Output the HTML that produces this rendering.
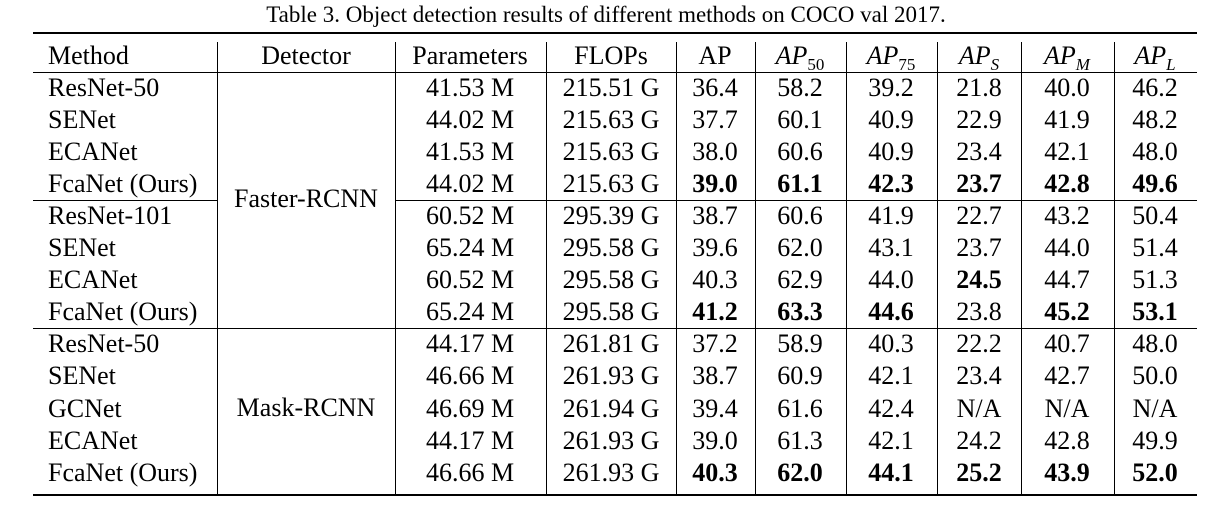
<!DOCTYPE html>
<html><head><meta charset="utf-8"><style>
body{margin:0;width:1212px;height:512px;background:#fff;position:relative;overflow:hidden;font-family:"Liberation Serif",serif;color:#000}
.t{position:absolute;white-space:nowrap;font-size:26px;line-height:32px;height:32px}
.c{transform:translateX(-50%)}
.h{position:absolute;background:#000}
sub{font-size:17px;vertical-align:-6px;line-height:0}
b{font-weight:bold}
</style></head><body>
<div class="t c" style="left:606px;top:0;font-size:23px;line-height:30px">Table 3. Object detection results of different methods on COCO val 2017.</div>
<div class="h" style="left:33px;top:32px;width:1164px;height:2px"></div>
<div class="h" style="left:33px;top:72px;width:1164px;height:1px"></div>
<div class="h" style="left:33px;top:200px;width:184px;height:1px"></div>
<div class="h" style="left:395px;top:200px;width:802px;height:1px"></div>
<div class="h" style="left:33px;top:328px;width:1164px;height:1px"></div>
<div class="h" style="left:33px;top:494px;width:1164px;height:2px"></div>
<div class="t c" style="left:306px;top:183px">Faster-RCNN</div>
<div class="t c" style="left:306px;top:392px">Mask-RCNN</div>
<script>
const vlines=[217,395,546,676,755,846,937,1021,1114];
const centers=[48,306,470,611,715,800,891,979,1067,1155];
const headers=['Method','Detector','Parameters','FLOPs','AP','<i>AP</i><sub>50</sub>','<i>AP</i><sub>75</sub>','<i>AP<sub>S</sub></i>','<i>AP<sub>M</sub></i>','<i>AP<sub>L</sub></i>'];
const methods=['ResNet-50','SENet','ECANet','FcaNet (Ours)','ResNet-101','SENet','ECANet','FcaNet (Ours)','ResNet-50','SENet','GCNet','ECANet','FcaNet (Ours)'];
const params=['41.53 M','44.02 M','41.53 M','44.02 M','60.52 M','65.24 M','60.52 M','65.24 M','44.17 M','46.66 M','46.69 M','44.17 M','46.66 M'];
const flops=['215.51 G','215.63 G','215.63 G','215.63 G','295.39 G','295.58 G','295.58 G','295.58 G','261.81 G','261.93 G','261.94 G','261.93 G','261.93 G'];
const metrics=[
['36.4','58.2','39.2','21.8','40.0','46.2'],
['37.7','60.1','40.9','22.9','41.9','48.2'],
['38.0','60.6','40.9','23.4','42.1','48.0'],
['*39.0','*61.1','*42.3','*23.7','*42.8','*49.6'],
['38.7','60.6','41.9','22.7','43.2','50.4'],
['39.6','62.0','43.1','23.7','44.0','51.4'],
['40.3','62.9','44.0','*24.5','44.7','51.3'],
['*41.2','*63.3','*44.6','23.8','*45.2','*53.1'],
['37.2','58.9','40.3','22.2','40.7','48.0'],
['38.7','60.9','42.1','23.4','42.7','50.0'],
['39.4','61.6','42.4','N/A','N/A','N/A'],
['39.0','61.3','42.1','24.2','42.8','49.9'],
['*40.3','*62.0','*44.1','*25.2','*43.9','*52.0']];
const rowTops=[72,104,136,168,200,232,264,296,328,360,393,425,457];
function cell(html,x,y,center,name){
  const d=document.createElement('div');
  d.className='t'+(center?' c':'');
  d.style.left=x+'px';d.style.top=y+'px';d.innerHTML=html;
  
  
  document.body.appendChild(d);
}
vlines.forEach((x,i)=>{
  const d=document.createElement('div');d.className='h';
  d.style.left=x+'px';d.style.top='42px';d.style.width='1px';d.style.height='452px';
  
  
  document.body.appendChild(d);
});
headers.forEach((h,i)=>cell(h,centers[i],40,i>0,'header-cell'));
methods.forEach((m,r)=>{
  const y=rowTops[r];
  cell(m,centers[0],y,false,'method-cell');
  cell(params[r],centers[2],y,true,'params-cell');
  cell(flops[r],centers[3],y,true,'flops-cell');
  metrics[r].forEach((v,j)=>{
    const html=v[0]==='*'?'<b>'+v.slice(1)+'</b>':v;
    cell(html,centers[4+j],y,true,'metric-cell');
  });
});
</script>
</body></html>
